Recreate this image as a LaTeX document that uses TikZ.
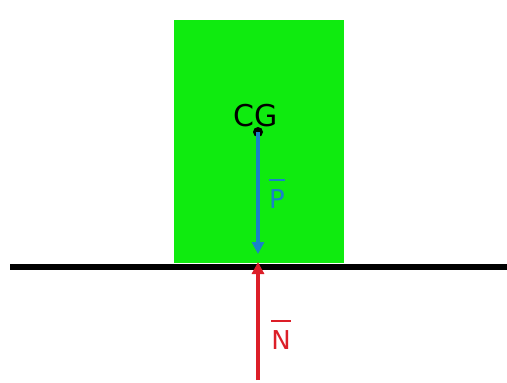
\documentclass[tikz,border=0pt]{standalone}
\usepackage{fontspec}
\setmainfont{DejaVu Sans}
\usetikzlibrary{arrows.meta}
\definecolor{boxgreen}{RGB}{15,235,15}
\definecolor{pblue}{RGB}{25,130,200}
\definecolor{nred}{RGB}{220,30,40}
\tikzset{
  force/.style={line width=3.2pt,-{Triangle[length=12pt,width=12pt]}},
  lbl/.style={inner sep=0pt,font=\fontsize{26}{30}\selectfont},
}
\newcommand{\vecbar}[1]{\setbox0\hbox{#1}\leavevmode\rlap{\raisebox{1.05em}{\rule{\wd0}{1.8pt}}}\box0}
\begin{document}
\begin{tikzpicture}[x=1pt,y=-1pt]
\useasboundingbox (0,0) rectangle (507,383);
\fill[boxgreen] (174,20) rectangle (344,263);
\coordinate (gl) at (10,267);
\coordinate (gr) at (507,267);
\draw[line width=6pt] (gl) -- (gr);
\node[circle,fill=black,inner sep=0pt,minimum size=10pt] (cg) at (258,132) {};
\node[inner sep=0pt,font=\fontsize{30}{34}\selectfont,anchor=base] (cgl) at (256,126) {CG};
\coordinate (pend) at (258,254);
\coordinate (nstart) at (258,380);
\coordinate (nend) at (258,262);
\draw[force,pblue] (cg.center) -- (pend);
\draw[force,nred] (nstart) -- (nend);
\node[lbl,text=pblue,anchor=base] (pl) at (277,208) {\vecbar{P}};
\node[lbl,text=nred,anchor=base] (nl) at (281,349) {\vecbar{N}};
\end{tikzpicture}
\end{document}
